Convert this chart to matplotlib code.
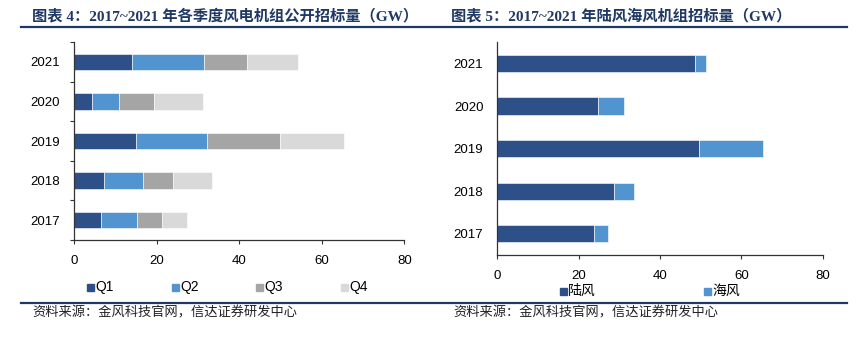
import matplotlib
matplotlib.use("Agg")
import matplotlib.pyplot as plt
from matplotlib.lines import Line2D

plt.rcParams['font.family'] = ['Liberation Sans', 'Noto Sans CJK SC']

# ---- data ----
years = ['2017', '2018', '2019', '2020', '2021']
q1 = [6.5, 7.3, 14.9, 4.4, 14.1]
q2 = [8.8, 9.5, 17.4, 6.6, 17.4]
q3 = [6.0, 7.2, 17.6, 8.4, 10.4]
q4 = [6.0, 9.5, 15.4, 11.8, 12.3]
quarter_labels = ['Q1', 'Q2', 'Q3', 'Q4']

onshore = [23.8, 28.7, 49.6, 24.8, 48.5]
offshore = [3.4, 4.8, 15.6, 6.4, 2.8]
wind_labels = ['陆风', '海风']

title_left = '图表 4：2017~2021 年各季度风电机组公开招标量（GW）'
title_right = '图表 5：2017~2021 年陆风海风机组招标量（GW）'
source = '资料来源：金风科技官网，信达证券研发中心'

# ---- styling ----
C_Q = ['#2E5088', '#5294D0', '#A5A5A5', '#D9D9D9']
NAVY = '#1F3864'
W, H = 868, 348

fig = plt.figure(figsize=(W / 100, H / 100), dpi=100)


def px_axes(x0, x1, ytop, ybot):
    return fig.add_axes([x0 / W, 1 - ybot / H, (x1 - x0) / W, (ybot - ytop) / H])


def style_axes(ax, boundary_ticks):
    ax.set_xlim(0, 80)
    ax.set_xticks([0, 20, 40, 60, 80])
    ax.set_ylim(-0.5, len(years) - 0.5)
    ax.set_yticks(range(len(years)))
    ax.set_yticklabels(years)
    for s in ('top', 'right'):
        ax.spines[s].set_visible(False)
    for s in ('left', 'bottom'):
        ax.spines[s].set_color('#333333')
        ax.spines[s].set_linewidth(0.9)
    ax.tick_params(axis='x', direction='out', length=3, width=0.8,
                   color='#333333', pad=8, labelsize=9.5)
    ax.tick_params(axis='y', length=0, pad=10, labelsize=9.5)
    if boundary_ticks:
        ax.set_yticks([i + 0.5 for i in range(-1, len(years))], minor=True)
        ax.tick_params(axis='y', which='minor', direction='out', length=3,
                       width=0.8, color='#333333')


# ---- left: quarterly tenders ----
axl = px_axes(74, 404.3, 42, 240)
left = [0] * len(years)
for vals, col, lab in zip([q1, q2, q3, q4], C_Q, quarter_labels):
    axl.barh(years, vals, left=left, height=0.41, color=col,
             edgecolor='white', linewidth=0.4, label=lab)
    left = [a + b for a, b in zip(left, vals)]
style_axes(axl, True)

# ---- right: onshore / offshore ----
axr = px_axes(497.3, 822.7, 42.4, 255)
axr.barh(years, onshore, height=0.41, color=C_Q[0], edgecolor='white',
         linewidth=0.4, label=wind_labels[0])
axr.barh(years, offshore, left=onshore, height=0.41, color=C_Q[1],
         edgecolor='white', linewidth=0.4, label=wind_labels[1])
style_axes(axr, False)

# ---- legends ----
for x, col, lab in zip([90, 175, 259, 344], C_Q, quarter_labels):
    fig.patches.append(plt.Rectangle(((x - 3.5) / W, 1 - (287 + 3.5) / H),
                                     7 / W, 7 / H, transform=fig.transFigure,
                                     color=col))
    fig.text((x + 5) / W, 1 - 287 / H, lab, fontsize=10, va='center', ha='left')
for x, col, lab in zip([563, 707], C_Q[:2], wind_labels):
    fig.patches.append(plt.Rectangle(((x - 3.5) / W, 1 - (291 + 3.5) / H),
                                     7 / W, 7 / H, transform=fig.transFigure,
                                     color=col))
    fig.text((x + 5) / W, 1 - 291 / H, lab, fontsize=10, va='center', ha='left')

# ---- titles, rules, source ----
title_font = ['Liberation Serif', 'Noto Sans CJK SC']
fig.text(32 / W, 1 - 16 / H, title_left, fontsize=11, fontweight='bold',
         color=NAVY, va='center', ha='left', family=title_font)
fig.text(451 / W, 1 - 16 / H, title_right, fontsize=11, fontweight='bold',
         color=NAVY, va='center', ha='left', family=title_font)

for y in (27, 302.5):
    fig.add_artist(Line2D([21 / W, 847 / W], [1 - y / H, 1 - y / H],
                          transform=fig.transFigure, color=NAVY, lw=1.6))

fig.text(32 / W, 1 - 313 / H, source, fontsize=9.5, color='#222222',
         va='center', ha='left', style='italic', family=['Noto Sans CJK SC'])
fig.text(453 / W, 1 - 313 / H, source, fontsize=9.5, color='#222222',
         va='center', ha='left', style='italic', family=['Noto Sans CJK SC'])

fig.savefig('out.png', dpi=100)
